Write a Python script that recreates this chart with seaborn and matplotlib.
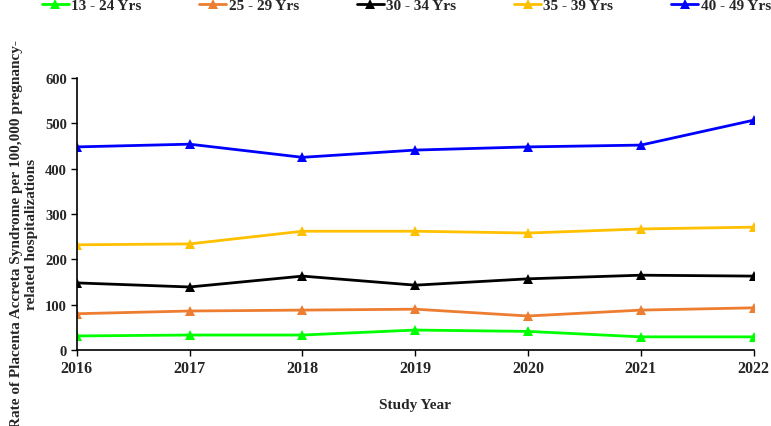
import matplotlib.pyplot as plt
import seaborn as sns
import pandas as pd

years = [2016, 2017, 2018, 2019, 2020, 2021, 2022]
groups = ['13 - 24 Yrs', '25 - 29 Yrs', '30 - 34 Yrs', '35 - 39 Yrs', '40 - 49 Yrs']
rate_13_24 = [31, 33, 33, 44, 41, 29, 29]
rate_25_29 = [80, 86, 88, 90, 75, 88, 93]
rate_30_34 = [148, 139, 163, 143, 157, 165, 163]
rate_35_39 = [232, 234, 262, 262, 258, 267, 271]
rate_40_49 = [448, 454, 425, 441, 448, 452, 507]
colors = ['#00FF00', '#ED7D31', '#000000', '#FFC000', '#0000FF']

series = [rate_13_24, rate_25_29, rate_30_34, rate_35_39, rate_40_49]
df = pd.concat([pd.DataFrame({'year': years, 'rate': s, 'group': g})
                for g, s in zip(groups, series)], ignore_index=True)

sns.set_style('white')
plt.rcParams['font.family'] = ['Liberation Serif', 'DejaVu Serif']
plt.rcParams['font.weight'] = 'bold'

fig = plt.figure(figsize=(7.71, 4.27), dpi=100)
ax = fig.add_axes([0.0996, 0.178, 0.878, 0.637])

sns.lineplot(data=df, x='year', y='rate', hue='group', palette=colors,
             marker='^', markersize=7, markeredgewidth=0, linewidth=2,
             ax=ax)

ax.set_xlim(2016, 2022)
ax.set_ylim(0, 600)
ax.set_xticks(years)
ax.set_yticks(range(0, 601, 100))
for lab in ax.get_xticklabels():
    lab.set_fontweight('bold')
    lab.set_fontsize(11.5)
for lab in ax.get_yticklabels():
    lab.set_fontweight('bold')
    lab.set_fontsize(10.5)
ax.tick_params(axis='both', direction='out', length=4, width=1, color='black',
               bottom=True, left=True, pad=3)
for s in ['top', 'right']:
    ax.spines[s].set_visible(False)
for s in ['left', 'bottom']:
    ax.spines[s].set_color('black')
    ax.spines[s].set_linewidth(1.2)

ax.set_xlabel('Study Year', fontsize=11, fontweight='bold', labelpad=16)
ax.set_ylabel('Rate of Placenta Accreta Syndrome per 100,000 pregnancy-\nrelated hospitalizations',
              fontsize=11, fontweight='bold')
ax.yaxis.set_label_coords(-0.057, 0.43)

handles, labels = ax.get_legend_handles_labels()
ax.legend(handles, labels, loc='center', bbox_to_anchor=(0.527, 1 - 6 / 427),
          bbox_transform=fig.transFigure, ncol=5, frameon=False,
          prop={'weight': 'bold', 'size': 11}, columnspacing=3.8,
          handlelength=1.76, handletextpad=0.15, borderpad=0)

fig.savefig('out.png', dpi=100)
